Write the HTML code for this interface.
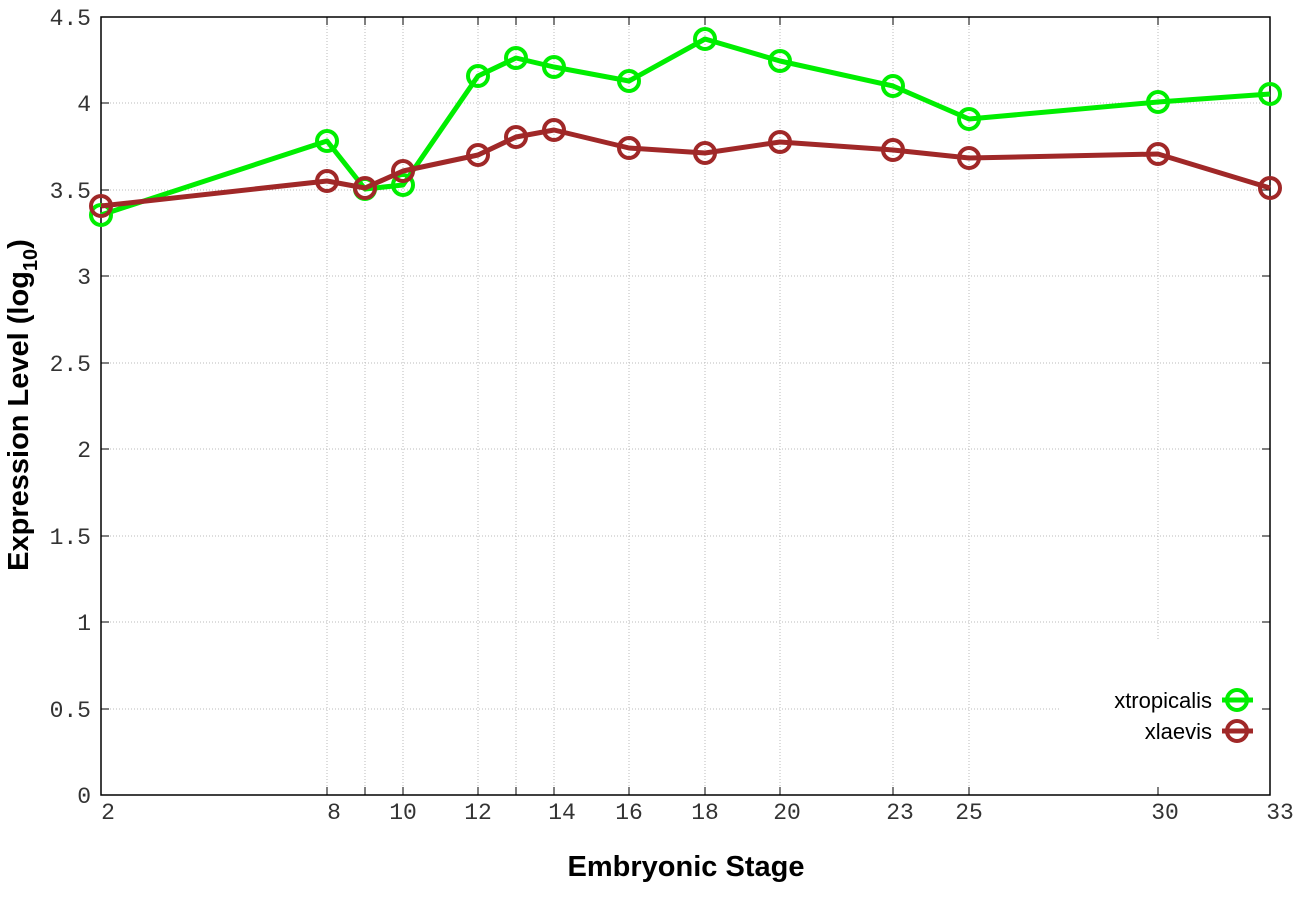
<!DOCTYPE html>
<html><head><meta charset="utf-8"><style>body{margin:0;background:#fff}</style></head><body>
<svg width="1296" height="907" xmlns="http://www.w3.org/2000/svg">
<rect width="1296" height="907" fill="#fff"/>
<g stroke="#bbb" stroke-width="1" stroke-dasharray="1,2">
<line x1="101" x2="1270" y1="103" y2="103"/><line x1="101" x2="1270" y1="190" y2="190"/><line x1="101" x2="1270" y1="276" y2="276"/><line x1="101" x2="1270" y1="363" y2="363"/><line x1="101" x2="1270" y1="449" y2="449"/><line x1="101" x2="1270" y1="536" y2="536"/><line x1="101" x2="1270" y1="622" y2="622"/><line x1="101" x2="1060" y1="709" y2="709"/>
<line x1="327" x2="327" y1="17" y2="795"/><line x1="365" x2="365" y1="17" y2="795"/><line x1="403" x2="403" y1="17" y2="795"/><line x1="478" x2="478" y1="17" y2="795"/><line x1="516" x2="516" y1="17" y2="795"/><line x1="554" x2="554" y1="17" y2="795"/><line x1="629" x2="629" y1="17" y2="795"/><line x1="705" x2="705" y1="17" y2="795"/><line x1="780" x2="780" y1="17" y2="795"/><line x1="893" x2="893" y1="17" y2="795"/><line x1="969" x2="969" y1="17" y2="795"/><line x1="1158" x2="1158" y1="17" y2="640"/>
</g>
<rect x="101" y="17" width="1169" height="778" fill="none" stroke="#000" stroke-width="1.5"/>
<g stroke="#000" stroke-width="1">
<path d="M101 103h8M101 190h8M101 276h8M101 363h8M101 449h8M101 536h8M101 622h8M101 709h8M1270 103h-8M1270 190h-8M1270 276h-8M1270 363h-8M1270 449h-8M1270 536h-8M1270 622h-8M1270 709h-8"/>
<path d="M327 795v-8M365 795v-8M403 795v-8M478 795v-8M516 795v-8M554 795v-8M629 795v-8M705 795v-8M780 795v-8M893 795v-8M969 795v-8M1158 795v-8M327 17v8M365 17v8M403 17v8M478 17v8M516 17v8M554 17v8M629 17v8M705 17v8M780 17v8M893 17v8M969 17v8M1158 17v8"/>
</g>
<g font-family="Liberation Mono, monospace" font-size="23" fill="#333" text-anchor="end">
<text x="91" y="25">4.5</text><text x="91" y="111">4</text><text x="91" y="198">3.5</text><text x="91" y="284">3</text><text x="91" y="371">2.5</text><text x="91" y="457">2</text><text x="91" y="544">1.5</text><text x="91" y="630">1</text><text x="91" y="717">0.5</text><text x="91" y="803">0</text>
</g>
<g font-family="Liberation Mono, monospace" font-size="23" fill="#333" text-anchor="middle">
<text x="108" y="819">2</text><text x="334" y="819">8</text><text x="403" y="819">10</text><text x="478" y="819">12</text><text x="562" y="819">14</text><text x="629" y="819">16</text><text x="705" y="819">18</text><text x="787" y="819">20</text><text x="900" y="819">23</text><text x="969" y="819">25</text><text x="1165" y="819">30</text><text x="1280" y="819">33</text>
</g>
<text x="686" y="876" font-family="Liberation Sans, sans-serif" font-weight="bold" font-size="29" text-anchor="middle">Embryonic Stage</text>
<text transform="translate(28,405) rotate(-90)" font-family="Liberation Sans, sans-serif" font-weight="bold" font-size="29" text-anchor="middle">Expression Level (log<tspan font-size="20" dy="9">10</tspan><tspan dy="-9">)</tspan></text>
<g fill="none" stroke="#00ee00" stroke-width="5" stroke-linejoin="round">
<polyline points="101,215 327,141 365,189 403,185 478,76 516,58 554,67 629,81 705,39 780,61 893,86 969,119 1158,102 1270,94"/>
<g stroke-width="4"><circle cx="101" cy="215" r="10"/><circle cx="327" cy="141" r="10"/><circle cx="365" cy="189" r="10"/><circle cx="403" cy="185" r="10"/><circle cx="478" cy="76" r="10"/><circle cx="516" cy="58" r="10"/><circle cx="554" cy="67" r="10"/><circle cx="629" cy="81" r="10"/><circle cx="705" cy="39" r="10"/><circle cx="780" cy="61" r="10"/><circle cx="893" cy="86" r="10"/><circle cx="969" cy="119" r="10"/><circle cx="1158" cy="102" r="10"/><circle cx="1270" cy="94" r="10"/></g>
</g>
<g fill="none" stroke="#a02828" stroke-width="5" stroke-linejoin="round">
<polyline points="101,206 327,181 365,188 403,171 478,155 516,137 554,130 629,148 705,153 780,142 893,150 969,158 1158,154 1270,188"/>
<g stroke-width="4"><circle cx="101" cy="206" r="10"/><circle cx="327" cy="181" r="10"/><circle cx="365" cy="188" r="10"/><circle cx="403" cy="171" r="10"/><circle cx="478" cy="155" r="10"/><circle cx="516" cy="137" r="10"/><circle cx="554" cy="130" r="10"/><circle cx="629" cy="148" r="10"/><circle cx="705" cy="153" r="10"/><circle cx="780" cy="142" r="10"/><circle cx="893" cy="150" r="10"/><circle cx="969" cy="158" r="10"/><circle cx="1158" cy="154" r="10"/><circle cx="1270" cy="188" r="10"/></g>
</g>
<g font-family="Liberation Sans, sans-serif" font-size="22" fill="#000" text-anchor="end">
<text x="1212" y="708">xtropicalis</text><text x="1212" y="739">xlaevis</text>
</g>
<g fill="none" stroke-width="4">
<g stroke="#00ee00"><line x1="1222" x2="1253" y1="700" y2="700" stroke-width="5"/><circle cx="1237" cy="700" r="10"/></g>
<g stroke="#a02828"><line x1="1222" x2="1253" y1="731" y2="731" stroke-width="5"/><circle cx="1237" cy="731" r="10"/></g>
</g>
</svg>
</body></html>
